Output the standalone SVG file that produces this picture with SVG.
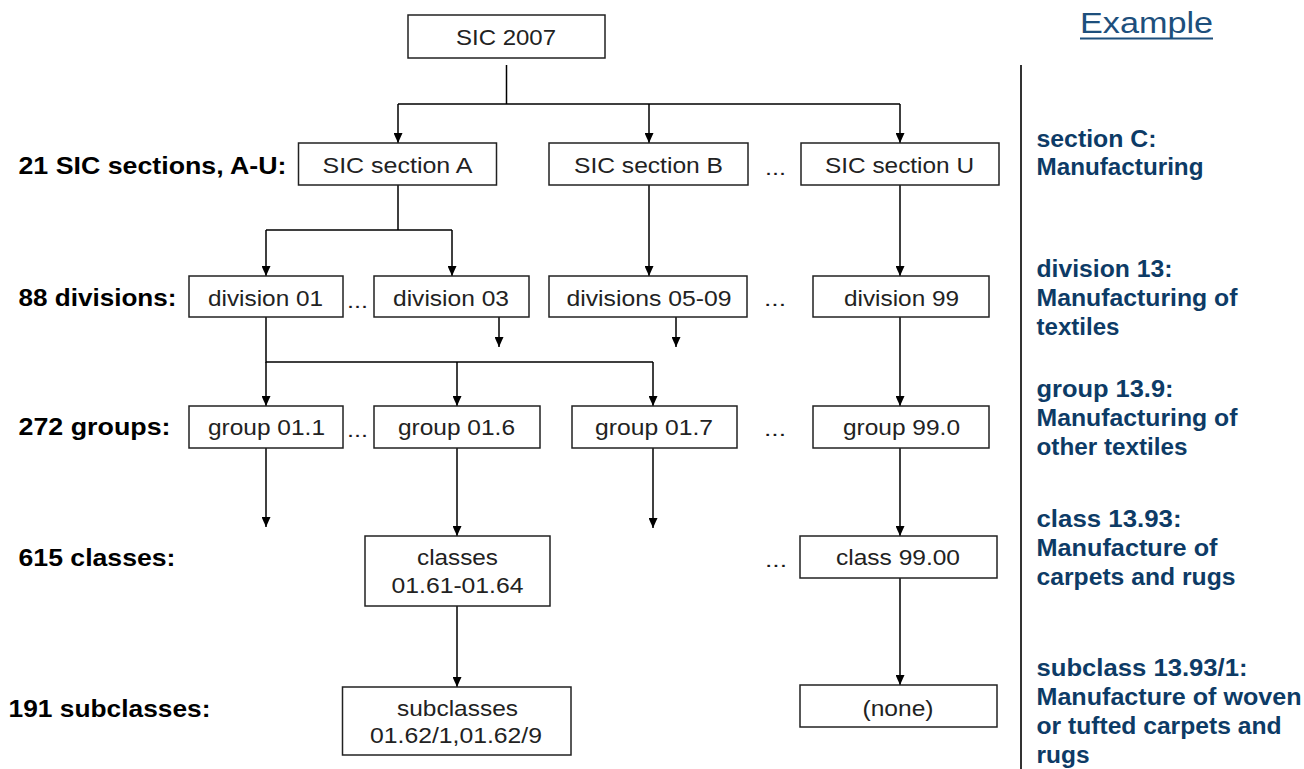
<svg xmlns="http://www.w3.org/2000/svg" width="1304" height="769" viewBox="0 0 1304 769">
<style>
  .box { fill: #ffffff; stroke: #222222; stroke-width: 1.5; }
  .bt { font-family: "Liberation Sans", Arial, sans-serif; font-size: 22px; fill: #222222; }
  .lbl { font-family: "Liberation Sans", Arial, sans-serif; font-size: 24px; font-weight: bold; fill: #000000; }
  .ex { font-family: "Liberation Sans", Arial, sans-serif; font-size: 23px; font-weight: bold; fill: #0d3b66; }
  .dots { font-family: "Liberation Sans", Arial, sans-serif; font-size: 21px; fill: #1a1a1a; }
  .conn { fill: none; stroke: #000000; stroke-width: 1.5; }
  .arr { marker-end: url(#ah); }
</style>
<defs>
  <marker id="ah" viewBox="0 0 10 9" refX="10" refY="4.5" markerWidth="10" markerHeight="9" markerUnits="userSpaceOnUse" orient="auto">
    <path d="M0,0 L10,4.5 L0,9 z" fill="#000000"/>
  </marker>
</defs>
<rect width="1304" height="769" fill="#ffffff"/>

<g id="connectors">
  <path class="conn" d="M506.5,65 V104 M398,104 H900"/>
  <path class="conn arr" d="M398,104 V143"/>
  <path class="conn arr" d="M649,104 V143"/>
  <path class="conn arr" d="M900,104 V143"/>
  <path class="conn" d="M398,185 V230 M266,230 H452"/>
  <path class="conn arr" d="M266,230 V276"/>
  <path class="conn arr" d="M452,230 V276"/>
  <path class="conn arr" d="M649,185 V276"/>
  <path class="conn arr" d="M900,185 V276"/>
  <path class="conn" d="M266,317 V362 H653"/>
  <path class="conn arr" d="M266,362 V406"/>
  <path class="conn arr" d="M457,362 V406"/>
  <path class="conn arr" d="M653,362 V406"/>
  <path class="conn arr" d="M499,317 V347"/>
  <path class="conn arr" d="M676,317 V347"/>
  <path class="conn arr" d="M900,317 V406"/>
  <path class="conn arr" d="M266,448 V527"/>
  <path class="conn arr" d="M457,448 V536"/>
  <path class="conn arr" d="M653,448 V528"/>
  <path class="conn arr" d="M900,448 V536"/>
  <path class="conn arr" d="M457,606 V687"/>
  <path class="conn arr" d="M900,578 V685"/>
</g>

<g id="n-sic2007">
  <rect class="box" x="408" y="15" width="197" height="43"/>
  <text class="bt" x="456" y="45" textLength="100" lengthAdjust="spacingAndGlyphs">SIC 2007</text>
</g>
<g id="n-sectionA">
  <rect class="box" x="298.5" y="143" width="198" height="42"/>
  <text class="bt" x="322.5" y="173" textLength="150" lengthAdjust="spacingAndGlyphs">SIC section A</text>
</g>
<g id="n-sectionB">
  <rect class="box" x="549" y="143" width="199" height="42"/>
  <text class="bt" x="574" y="173" textLength="149" lengthAdjust="spacingAndGlyphs">SIC section B</text>
</g>
<g id="n-sectionU">
  <rect class="box" x="801" y="143" width="198" height="42"/>
  <text class="bt" x="825" y="173" textLength="149" lengthAdjust="spacingAndGlyphs">SIC section U</text>
</g>
<g id="n-div01">
  <rect class="box" x="189" y="276" width="154" height="41"/>
  <text class="bt" x="208" y="306" textLength="115" lengthAdjust="spacingAndGlyphs">division 01</text>
</g>
<g id="n-div03">
  <rect class="box" x="374" y="276" width="155" height="41"/>
  <text class="bt" x="393" y="306" textLength="116" lengthAdjust="spacingAndGlyphs">division 03</text>
</g>
<g id="n-div0509">
  <rect class="box" x="549" y="276" width="198" height="41"/>
  <text class="bt" x="566.5" y="306" textLength="165" lengthAdjust="spacingAndGlyphs">divisions 05-09</text>
</g>
<g id="n-div99">
  <rect class="box" x="813" y="276" width="176" height="41"/>
  <text class="bt" x="844" y="306" textLength="115" lengthAdjust="spacingAndGlyphs">division 99</text>
</g>
<g id="n-grp011">
  <rect class="box" x="189" y="406" width="154" height="42"/>
  <text class="bt" x="208" y="435" textLength="117" lengthAdjust="spacingAndGlyphs">group 01.1</text>
</g>
<g id="n-grp016">
  <rect class="box" x="374" y="406" width="166" height="42"/>
  <text class="bt" x="398" y="435" textLength="117" lengthAdjust="spacingAndGlyphs">group 01.6</text>
</g>
<g id="n-grp017">
  <rect class="box" x="572" y="406" width="165" height="42"/>
  <text class="bt" x="595" y="435" textLength="118" lengthAdjust="spacingAndGlyphs">group 01.7</text>
</g>
<g id="n-grp990">
  <rect class="box" x="813" y="406" width="176" height="42"/>
  <text class="bt" x="843" y="435" textLength="117" lengthAdjust="spacingAndGlyphs">group 99.0</text>
</g>
<g id="n-cls0161">
  <rect class="box" x="365" y="536" width="185" height="70"/>
  <text class="bt" x="417" y="565" textLength="81" lengthAdjust="spacingAndGlyphs">classes</text>
  <text class="bt" x="391.5" y="593" textLength="132" lengthAdjust="spacingAndGlyphs">01.61-01.64</text>
</g>
<g id="n-cls9900">
  <rect class="box" x="800" y="536" width="197" height="42"/>
  <text class="bt" x="836" y="565" textLength="124" lengthAdjust="spacingAndGlyphs">class 99.00</text>
</g>
<g id="n-sub0162">
  <rect class="box" x="342.5" y="687" width="228.5" height="68"/>
  <text class="bt" x="397" y="716" textLength="121" lengthAdjust="spacingAndGlyphs">subclasses</text>
  <text class="bt" x="370" y="743" textLength="172" lengthAdjust="spacingAndGlyphs">01.62/1,01.62/9</text>
</g>
<g id="n-none">
  <rect class="box" x="800" y="685" width="197" height="42"/>
  <text class="bt" x="862.5" y="716" textLength="71" lengthAdjust="spacingAndGlyphs">(none)</text>
</g>

<g id="ellipses">
  <text class="dots" x="765" y="175" textLength="21" lengthAdjust="spacingAndGlyphs">...</text>
  <text class="dots" x="347" y="308" textLength="21" lengthAdjust="spacingAndGlyphs">...</text>
  <text class="dots" x="764" y="306" textLength="22" lengthAdjust="spacingAndGlyphs">...</text>
  <text class="dots" x="347" y="437" textLength="21" lengthAdjust="spacingAndGlyphs">...</text>
  <text class="dots" x="764" y="436" textLength="22" lengthAdjust="spacingAndGlyphs">...</text>
  <text class="dots" x="765" y="567" textLength="22" lengthAdjust="spacingAndGlyphs">...</text>
</g>

<g id="level-labels">
  <text class="lbl" x="18.5" y="174" textLength="268" lengthAdjust="spacingAndGlyphs">21 SIC sections, A-U:</text>
  <text class="lbl" x="18.5" y="306" textLength="158" lengthAdjust="spacingAndGlyphs">88 divisions:</text>
  <text class="lbl" x="18.5" y="435" textLength="152" lengthAdjust="spacingAndGlyphs">272 groups:</text>
  <text class="lbl" x="18.5" y="566" textLength="157" lengthAdjust="spacingAndGlyphs">615 classes:</text>
  <text class="lbl" x="8.5" y="717" textLength="202" lengthAdjust="spacingAndGlyphs">191 subclasses:</text>
</g>

<g id="example">
  <line x1="1021" y1="65" x2="1021" y2="769" stroke="#333333" stroke-width="2"/>
  <text x="1080" y="33" font-family="Liberation Sans, Arial, sans-serif" font-size="30" fill="#1d4f7c" textLength="133" lengthAdjust="spacingAndGlyphs">Example</text>
  <line x1="1080" y1="38.5" x2="1213" y2="38.5" stroke="#1d4f7c" stroke-width="2"/>
  <text class="ex" x="1036.5" y="146.5" textLength="120" lengthAdjust="spacingAndGlyphs">section C:</text>
  <text class="ex" x="1036.5" y="175" textLength="167" lengthAdjust="spacingAndGlyphs">Manufacturing</text>
  <text class="ex" x="1036.5" y="276.5" textLength="136" lengthAdjust="spacingAndGlyphs">division 13:</text>
  <text class="ex" x="1036.5" y="305.5" textLength="201" lengthAdjust="spacingAndGlyphs">Manufacturing of</text>
  <text class="ex" x="1036.5" y="334.5" textLength="83" lengthAdjust="spacingAndGlyphs">textiles</text>
  <text class="ex" x="1036.5" y="396.5" textLength="137" lengthAdjust="spacingAndGlyphs">group 13.9:</text>
  <text class="ex" x="1036.5" y="426" textLength="201" lengthAdjust="spacingAndGlyphs">Manufacturing of</text>
  <text class="ex" x="1036.5" y="455" textLength="151" lengthAdjust="spacingAndGlyphs">other textiles</text>
  <text class="ex" x="1036.5" y="526.5" textLength="145" lengthAdjust="spacingAndGlyphs">class 13.93:</text>
  <text class="ex" x="1036.5" y="556" textLength="181" lengthAdjust="spacingAndGlyphs">Manufacture of</text>
  <text class="ex" x="1036.5" y="584.5" textLength="199" lengthAdjust="spacingAndGlyphs">carpets and rugs</text>
  <text class="ex" x="1036.5" y="676" textLength="211" lengthAdjust="spacingAndGlyphs">subclass 13.93/1:</text>
  <text class="ex" x="1036.5" y="705" textLength="265" lengthAdjust="spacingAndGlyphs">Manufacture of woven</text>
  <text class="ex" x="1036.5" y="734" textLength="245" lengthAdjust="spacingAndGlyphs">or tufted carpets and</text>
  <text class="ex" x="1036.5" y="763" textLength="53" lengthAdjust="spacingAndGlyphs">rugs</text>
</g>
</svg>
